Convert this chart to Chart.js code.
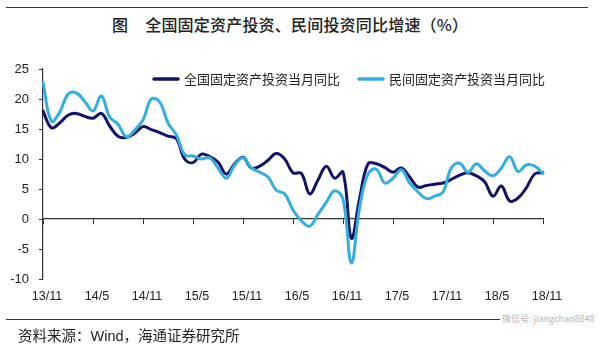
<!DOCTYPE html>
<html>
<head>
<meta charset="utf-8">
<script src="https://cdn.jsdelivr.net/npm/chart.js@4"></script>
<style>
    html, body {
        margin: 0;
        padding: 0;
        background: #fff;
    }
    .wrap {
        position: relative;
        width: 600px;
        height: 350px;
        overflow: hidden;
        font-family: "Noto Sans CJK SC", sans-serif;
        color: #222;
    }
    .rule {
        position: absolute;
        left: 6px;
        width: 582px;
        height: 0;
        border-top: 1.5px solid #333;
    }
    .title {
        position: absolute;
        top: 13px;
        left: 112px;
        font-size: 16px;
        font-weight: 500;
        letter-spacing: 0.2px;
        line-height: 22px;
        white-space: nowrap;
    }
    .title .fig {
        margin-right: 17px;
    }
    .source {
        position: absolute;
        top: 326px;
        left: 18px;
        font-size: 14.5px;
        line-height: 18px;
        white-space: nowrap;
    }
    .source .latin {
        font-family: "Liberation Sans", Arial, sans-serif;
    }
    .mark {
        position: absolute;
        top: 311px;
        left: 500px;
        font-size: 9px;
        line-height: 15px;
        color: #b4b4b4;
        background: #fff;
        padding: 0 2px;
        white-space: nowrap;
    }
    canvas {
        position: absolute;
        top: 0;
        left: 0;
    }
</style>
</head>
<body>
<div class="wrap">
    <div class="rule" style="top: 7px;"></div>
    <div class="title"><span class="fig">图</span>全国固定资产投资、民间投资同比增速（%）</div>
    <canvas id="fai" width="600" height="350"></canvas>
    <div class="rule" style="top: 319px;"></div>
    <div class="mark">微信号: jiangchao8848</div>
    <div class="source">资料来源：<span class="latin">Wind</span>，海通证券研究所</div>
</div>
<script>
// Months 2013/11 .. 2018/11
const months = [
    '13/11', '13/12', '14/1', '14/2', '14/3', '14/4', '14/5', '14/6', '14/7', '14/8', '14/9', '14/10',
    '14/11', '14/12', '15/1', '15/2', '15/3', '15/4', '15/5', '15/6', '15/7', '15/8', '15/9', '15/10',
    '15/11', '15/12', '16/1', '16/2', '16/3', '16/4', '16/5', '16/6', '16/7', '16/8', '16/9', '16/10',
    '16/11', '16/12', '17/1', '17/2', '17/3', '17/4', '17/5', '17/6', '17/7', '17/8', '17/9', '17/10',
    '17/11', '17/12', '18/1', '18/2', '18/3', '18/4', '18/5', '18/6', '18/7', '18/8', '18/9', '18/10',
    '18/11'
];

// Labels shown under the axis, one every six months
const tickLabels = ['13/11', '14/5', '14/11', '15/5', '15/11', '16/5', '16/11', '17/5', '17/11', '18/5', '18/11'];

// 全国固定资产投资当月同比 (%)
const nationalYoY = [
    18.0, 15.2, 16.0, 17.3, 17.6, 17.1, 16.8, 17.6, 15.5, 13.8, 13.6, 14.3,
    15.4, 14.9, 14.4, 13.8, 13.4, 10.0, 9.4, 10.8, 10.4, 9.5, 7.5, 9.2,
    10.3, 8.5, 8.8, 9.8, 10.9, 10.0, 7.7, 7.6, 4.2, 6.5, 8.8, 6.8,
    7.8, -3.2, 3.5, 9.2, 9.2, 8.6, 7.8, 8.5, 7.0, 5.3, 5.6, 5.8,
    6.0, 6.6, 7.3, 7.7, 7.2, 6.2, 3.8, 5.5, 3.0, 3.5, 5.2, 7.5,
    7.7
];

// 民间固定资产投资当月同比 (%)
const privateYoY = [
    22.7, 16.3, 17.8, 20.8, 21.0, 19.6, 18.0, 20.5, 17.0, 15.8, 13.7, 14.8,
    16.5, 20.0, 19.5, 16.0, 14.0, 10.7, 10.5, 10.0, 10.2, 8.5, 6.8, 9.0,
    10.2, 8.5, 7.8, 7.0, 4.8, 4.2, 1.5, -0.3, -1.2, 0.8, 2.8, 4.7,
    3.3, -7.3, 2.0, 7.5, 8.3, 6.0, 6.8, 8.2, 6.0, 4.5, 3.4, 3.8,
    4.5, 8.5, 9.3, 7.8, 9.2, 8.0, 7.2, 8.5, 10.4, 7.9, 9.0, 8.8,
    7.6
];

const NAVY = '#131366';
const CYAN = '#32aee0';
const AXIS = '#333';

// Legend drawn inside the plot area, right-aligned, short line + label per series
const lineLegend = {
    id: 'lineLegend',
    afterDraw(chart, args, opts) {
        const ctx = chart.ctx;
        const area = chart.chartArea;
        ctx.save();
        ctx.font = opts.font;
        ctx.textBaseline = 'middle';
        ctx.textAlign = 'left';

        const items = chart.data.datasets.map(ds => ({
            text: ds.label,
            color: ds.borderColor,
            width: opts.lineLength + opts.textGap + ctx.measureText(ds.label).width
        }));
        const total = items.reduce((sum, it) => sum + it.width, 0) + opts.itemGap * (items.length - 1);

        let x = area.right + opts.offsetX - total;
        const y = area.top + opts.offsetY;
        items.forEach(it => {
            ctx.strokeStyle = it.color;
            ctx.lineWidth = 3.5;
            ctx.lineCap = 'round';
            ctx.beginPath();
            ctx.moveTo(x + 2, y);
            ctx.lineTo(x + opts.lineLength - 2, y);
            ctx.stroke();
            ctx.fillStyle = '#222';
            ctx.fillText(it.text, x + opts.lineLength + opts.textGap, y);
            x += it.width + opts.itemGap;
        });
        ctx.restore();
    }
};

new Chart(document.getElementById('fai'), {
    type: 'line',
    data: {
        labels: months,
        datasets: [
            {
                label: '全国固定资产投资当月同比',
                data: nationalYoY,
                borderColor: NAVY,
                backgroundColor: NAVY,
                order: 2
            },
            {
                label: '民间固定资产投资当月同比',
                data: privateYoY,
                borderColor: CYAN,
                backgroundColor: CYAN,
                order: 1
            }
        ]
    },
    options: {
        responsive: false,
        animation: false,
        devicePixelRatio: 1,
        layout: {
            padding: { top: 69, right: 57, bottom: 0, left: 0 }
        },
        elements: {
            line: { borderWidth: 3, tension: 0.4, borderCapStyle: 'round', borderJoinStyle: 'round' },
            point: { radius: 0 }
        },
        plugins: {
            legend: { display: false },
            tooltip: { enabled: false },
            lineLegend: {
                font: '13px "Noto Sans CJK SC", sans-serif',
                lineLength: 28,
                textGap: 4,
                itemGap: 17,
                offsetX: 2,
                offsetY: 10
            }
        },
        scales: {
            y: {
                min: -10,
                max: 25,
                ticks: {
                    stepSize: 5,
                    padding: 10,
                    color: '#222',
                    font: { family: '"Liberation Sans", Arial, sans-serif', size: 13 }
                },
                grid: {
                    drawOnChartArea: false,
                    drawTicks: true,
                    tickLength: 4,
                    color: AXIS
                },
                border: { display: true, color: AXIS, width: 1.2 },
                afterFit(scale) {
                    scale.width = 43;
                }
            },
            // category axis crossing at zero, tick marks every six months
            x: {
                position: { y: 0 },
                offset: false,
                ticks: { display: false, autoSkip: false },
                grid: {
                    drawOnChartArea: false,
                    drawTicks: true,
                    tickLength: 5,
                    color: ctx => (ctx.index % 6 === 0 ? AXIS : 'rgba(0,0,0,0)')
                },
                border: { display: true, color: AXIS, width: 1.2 }
            },
            // labels along the bottom edge
            x2: {
                type: 'category',
                position: 'bottom',
                offset: false,
                grid: { display: false, drawTicks: false },
                border: { display: false },
                ticks: {
                    autoSkip: false,
                    maxRotation: 0,
                    padding: 10,
                    labelOffset: 4,
                    color: '#222',
                    font: { family: '"Liberation Sans", Arial, sans-serif', size: 12.5 },
                    callback(value, index) {
                        const label = months[index];
                        return tickLabels.includes(label) ? label : '';
                    }
                },
                afterFit(scale) {
                    scale.height = 71;
                }
            }
        }
    },
    plugins: [lineLegend]
});
</script>
</body>
</html>
